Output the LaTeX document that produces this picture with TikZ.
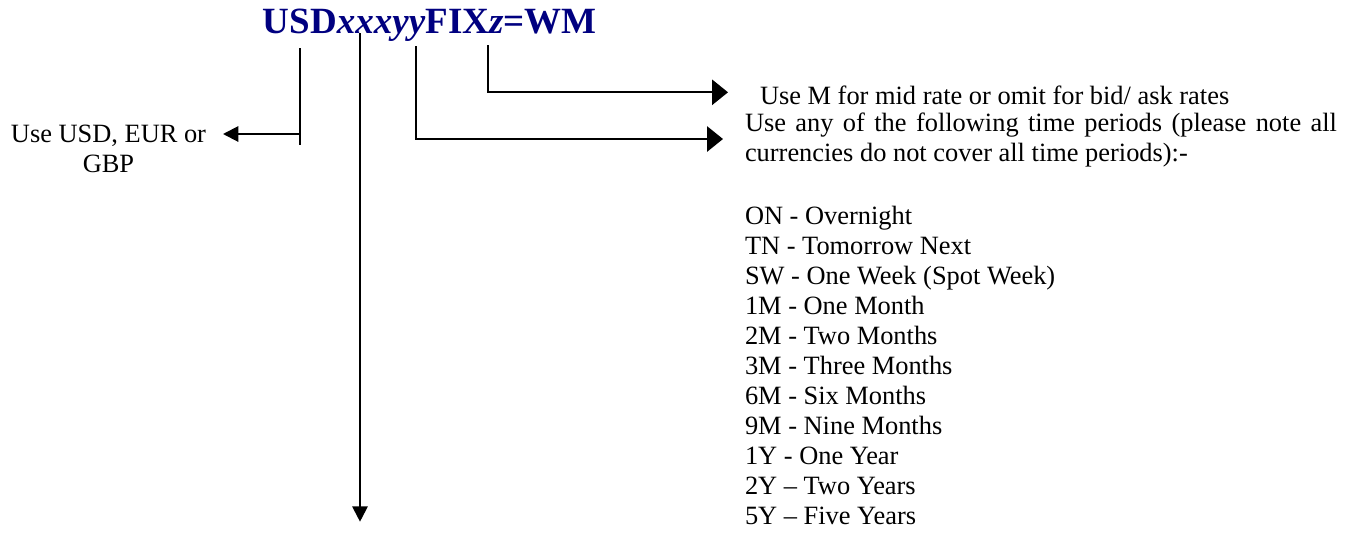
\documentclass[tikz,border=0pt]{standalone}
\usepackage{fontspec}
\setmainfont{Liberation Serif}
\usetikzlibrary{arrows.meta}
\definecolor{navy}{RGB}{0,0,128}
\tikzset{
  body/.style={inner sep=0pt, outer sep=0pt, font=\fontsize{19.8}{22.5}\selectfont},
  conn/.style={line width=1.5pt, line cap=butt, line join=miter},
  smalltip/.style={-{Triangle[length=11.5pt,width=11.5pt]}},
  widetip/.style={-{Triangle[length=12pt,width=19pt]}},
}
\begin{document}
\begin{tikzpicture}[x=0.75pt,y=-0.75pt]
\useasboundingbox (0,0) rectangle (1352,533);
% title
\node[inner sep=0pt, anchor=base west, text=navy, font=\fontsize{27.75}{32}\selectfont\bfseries] (title) at (262.7,33.3) {USD\textit{xxxyy}FIX\textit{z}=WM};
% text nodes (multi-line nodes are placed by the baseline of their last line)
\node[body, anchor=base, align=center] (cur) at (108.5,172) {Use USD, EUR or\\GBP};
\node[body, anchor=base west] (mid) at (760,104) {Use M for mid rate or omit for bid/ ask rates};
\node[body, anchor=base west, align=left] (per) at (745,161.7) {\makebox[444pt][s]{Use any of the following time periods (please note all}\\currencies do not cover all time periods):-};
\node[body, anchor=base west, align=left] (list) at (745,524.5) {ON - Overnight\\TN - Tomorrow Next\\SW - One Week (Spot Week)\\1M - One Month\\2M - Two Months\\3M - Three Months\\6M - Six Months\\9M - Nine Months\\1Y - One Year\\2Y – Two Years\\5Y – Five Years};
% connector points
\coordinate (a0) at (300,48);
\coordinate (a1) at (300,145);
\coordinate (ab) at (300,134);
\coordinate (atip) at (223,134);
\coordinate (b0) at (360,33);
\coordinate (btip) at (360,521.7);
\coordinate (c0) at (415.7,46);
\coordinate (cb) at (415.7,139);
\coordinate (ctip) at (723,139);
\coordinate (d0) at (488.3,45);
\coordinate (db) at (488.3,92.3);
\coordinate (dtip) at (728,92.3);
% connectors
\draw[conn] (a0) -- (a1);
\draw[conn, smalltip] (ab) -- (atip);
\draw[conn, smalltip] (b0) -- (btip);
\draw[conn, widetip] (c0) -- (cb) -- (ctip);
\draw[conn, widetip] (d0) -- (db) -- (dtip);
\end{tikzpicture}
\end{document}
